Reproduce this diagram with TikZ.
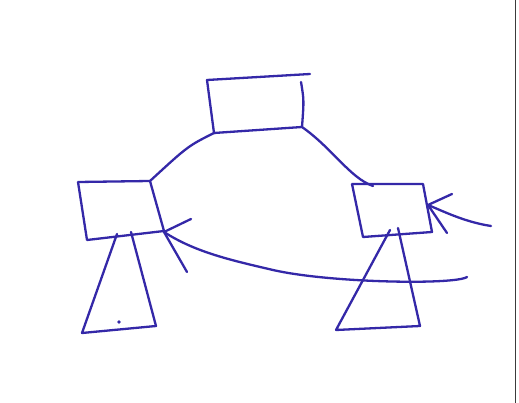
\documentclass[tikz,border=0pt]{standalone}
\usetikzlibrary{calc}
\definecolor{ink}{RGB}{52,40,168}
\definecolor{frame}{RGB}{60,60,60}
\tikzset{
  pen/.style={draw=ink, line width=2.3pt, line cap=round, line join=round},
  rule/.style={draw=frame, line width=0.8pt}
}
\begin{document}
\begin{tikzpicture}[x=1pt,y=-1pt]
\useasboundingbox (0,0) rectangle (519,403);
\fill[white] (0,0) rectangle (519,403);
% frame line on the right
\coordinate (rt) at (515,0);
\coordinate (rb) at (515,403);
\draw[rule] (rt) -- (rb);

% top box corners
\coordinate (ttl) at (207,80);
\coordinate (ttr) at (310,74);
\coordinate (trt) at (301,82);
\coordinate (tbr) at (302,127);
\coordinate (tbl) at (214,133);
\draw[pen] (ttl) -- (ttr);
\draw[pen] (trt) .. controls (304,100) .. (tbr);
\draw[pen] (tbl) -- (tbr);
\draw[pen] (ttl) -- (tbl);

% left box corners
\coordinate (ltl) at (78,182);
\coordinate (ltr) at (150,181);
\coordinate (lbr) at (164,231);
\coordinate (lbl) at (87,240);
\draw[pen] (ltl) -- (ltr) -- (lbr) -- (lbl) -- (ltl);

% right box corners
\coordinate (rtl) at (352,184);
\coordinate (rtr) at (423,184);
\coordinate (rbr) at (432,232);
\coordinate (rbl) at (363,237);
\draw[pen] (rtl) -- (rtr) -- (rbr) -- (rbl) -- (rtl);

% connectors from top box
\coordinate (rjoin) at (373,186);
\draw[pen] (tbl) .. controls (188,146) .. (ltr);
\draw[pen] (tbr) .. controls (332,148) and (350,178) .. (rjoin);

% left triangle
\coordinate (lta) at (117,234);
\coordinate (ltb) at (131,232);
\coordinate (ltc) at (82,333);
\coordinate (ltd) at (156,326);
\draw[pen] (lta) -- (ltc) -- (ltd) -- (ltb);
\fill[ink] (119,322) circle (1.8);

% right triangle
\coordinate (rta) at (390,230);
\coordinate (rtb) at (398,228);
\coordinate (rtc) at (336,330);
\coordinate (rtd) at (420,326);
\draw[pen] (rta) -- (rtc) -- (rtd) -- (rtb);

% long curved arrow into left box
\coordinate (lend) at (467,277);
\coordinate (ltip) at (164,232);
\draw[pen] (lend) .. controls (455,285) and (330,283) .. (273,270)
  .. controls (230,260) and (195,252) .. (ltip);
\draw[pen] (ltip) -- (191,219);
\draw[pen] (ltip) -- (187,272);

% arrow into right box
\coordinate (rend) at (491,226);
\coordinate (rtip) at (428,205);
\draw[pen] (rend) .. controls (465,222) and (445,212) .. (rtip);
\draw[pen] (rtip) -- (452,194);
\draw[pen] (rtip) -- (447,233);
\end{tikzpicture}
\end{document}
